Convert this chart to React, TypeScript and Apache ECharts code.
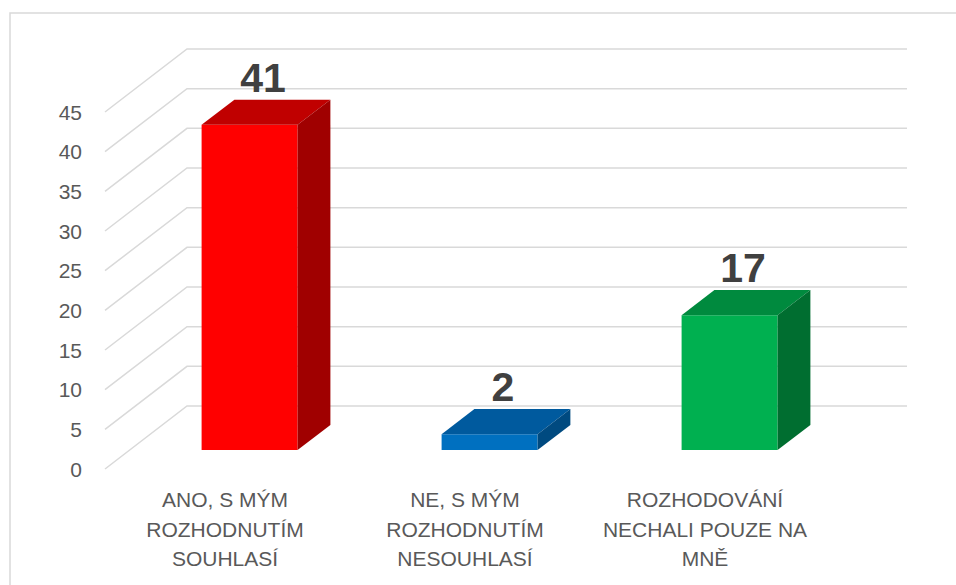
import React, { useEffect, useRef } from "react";
import * as echarts from "echarts";

// ---- data ----
const categories = [
  "ANO, S MÝM\nROZHODNUTÍM\nSOUHLASÍ",
  "NE, S MÝM\nROZHODNUTÍM\nNESOUHLASÍ",
  "ROZHODOVÁNÍ\nNECHALI POUZE NA\nMNĚ",
];
const values = [41, 2, 17];
const yTicks = [0, 5, 10, 15, 20, 25, 30, 35, 40, 45];
const yMin = 0;
const yMax = 45;
const yStep = 5;

// ---- styles ----
const frontColors = ["#FF0000", "#0070C0", "#00B050"];
const topColors = ["#C00000", "#005A9E", "#008A3E"];
const sideColors = ["#A00000", "#004A80", "#006E30"];
const DX = 82; // depth offset x (px)
const DY = 63; // depth offset y (px)
const D0 = 0.3; // bar front depth fraction
const D1 = 0.7; // bar back depth fraction
const BW = 0.4; // bar width fraction of band
const FONT = "'Liberation Sans', Arial, sans-serif";

export default function App() {
  const ref = useRef<HTMLDivElement>(null);

  useEffect(() => {
    document.body.style.margin = "0";
    if (!ref.current) return;
    const chart = echarts.init(ref.current, undefined, { renderer: "svg" });

    const option: any = {
      animation: false,
      backgroundColor: "#FFFFFF",
      graphic: [
        {
          type: "rect",
          shape: { x: 10, y: 13, width: 980, height: 620 },
          style: { fill: "none", stroke: "#D9D9D9", lineWidth: 1.5 },
          silent: true,
          z: -10,
        },
      ],
      grid: { left: 105, right: 131, top: 112, bottom: 116, containLabel: false },
      xAxis: {
        type: "category",
        data: categories,
        boundaryGap: true,
        axisLine: { show: false },
        axisTick: { show: false },
        splitLine: { show: false },
        axisLabel: {
          interval: 0,
          margin: 16,
          color: "#595959",
          fontSize: 21,
          lineHeight: 29.5,
          fontFamily: FONT,
          align: "center",
        },
      },
      yAxis: {
        type: "value",
        min: yMin,
        max: yMax,
        interval: yStep,
        axisLine: { show: false },
        axisTick: { show: false },
        splitLine: { show: false },
        axisLabel: {
          margin: 23,
          color: "#595959",
          fontSize: 21,
          fontFamily: FONT,
        },
      },
      series: [
        {
          type: "custom",
          silent: true,
          z: 1,
          data: yTicks.map((t) => [0, t]),
          renderItem: (params: any, api: any) => {
            const v = api.value(1);
            const p0 = api.coord([0, v]);
            const pN = api.coord([categories.length - 1, v]);
            const bw = api.size([1, 0])[0];
            const xl = p0[0] - bw / 2;
            const xr = pN[0] + bw / 2;
            const y = p0[1];
            return {
              type: "polyline",
              shape: {
                points: [
                  [xl, y],
                  [xl + DX, y - DY],
                  [xr + DX, y - DY],
                ],
              },
              style: { stroke: "#D9D9D9", lineWidth: 1.5, fill: null },
            };
          },
        },
        {
          type: "custom",
          z: 2,
          data: values.map((v, i) => [i, v]),
          renderItem: (params: any, api: any) => {
            const i = params.dataIndex;
            const idx = api.value(0);
            const v = api.value(1);
            const base = api.coord([idx, 0]);
            const top = api.coord([idx, v]);
            const bw = api.size([1, 0])[0];
            const cx = base[0];
            const fx = DX * D0;
            const fy = DY * D0;
            const bx = DX * (D1 - D0);
            const by = DY * (D1 - D0);
            const xL = cx - (bw * BW) / 2 + fx;
            const xR = cx + (bw * BW) / 2 + fx;
            const yB = base[1] - fy;
            const yT = top[1] - fy;
            return {
              type: "group",
              children: [
                {
                  type: "rect",
                  shape: { x: xL, y: yT, width: xR - xL, height: yB - yT },
                  style: { fill: frontColors[i] },
                },
                {
                  type: "polygon",
                  shape: {
                    points: [
                      [xL, yT],
                      [xR, yT],
                      [xR + bx, yT - by],
                      [xL + bx, yT - by],
                    ],
                  },
                  style: { fill: topColors[i] },
                },
                {
                  type: "polygon",
                  shape: {
                    points: [
                      [xR, yT],
                      [xR + bx, yT - by],
                      [xR + bx, yB - by],
                      [xR, yB],
                    ],
                  },
                  style: { fill: sideColors[i] },
                },
                {
                  type: "text",
                  style: {
                    text: String(v),
                    x: (xL + xR) / 2 + bx / 2 - 3,
                    y: yT - by - 22,
                    align: "center",
                    verticalAlign: "middle",
                    fill: "#404040",
                    fontSize: 41,
                    fontWeight: "bold",
                    fontFamily: FONT,
                  },
                },
              ],
            };
          },
        },
      ],
    };

    chart.setOption(option);
    return () => chart.dispose();
  }, []);

  return <div ref={ref} style={{ width: 956, height: 585 }} />;
}
